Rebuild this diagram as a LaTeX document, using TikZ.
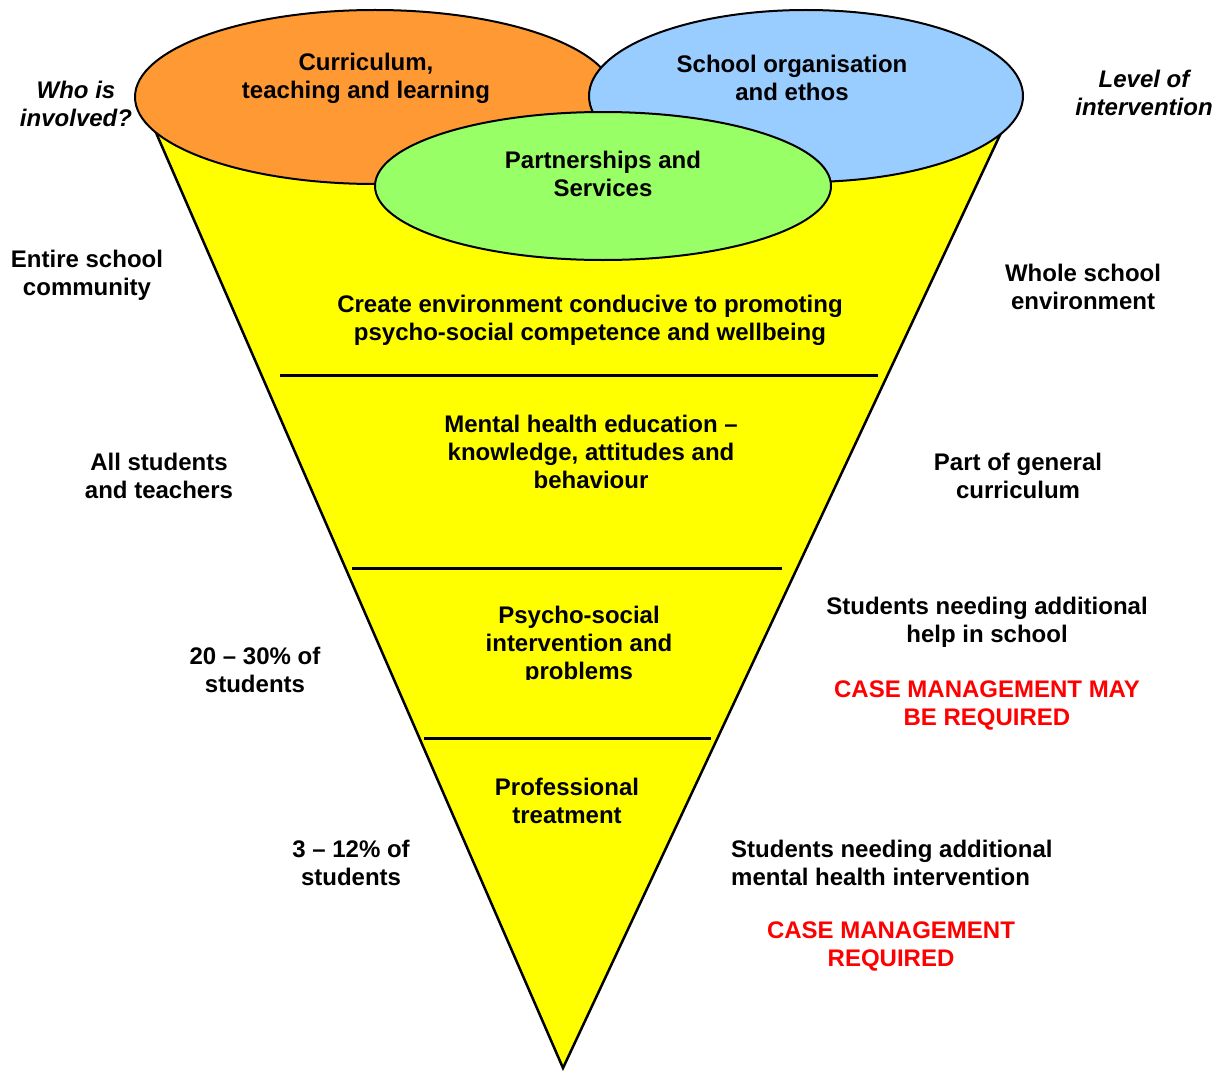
\documentclass[tikz,border=0pt]{standalone}
\usepackage{fontspec}
\setmainfont{Liberation Sans}
\definecolor{corange}{RGB}{255,153,51}
\definecolor{cblue}{RGB}{153,204,255}
\definecolor{cgreen}{RGB}{153,255,102}
\definecolor{cyellow}{RGB}{255,255,0}
\definecolor{cred}{RGB}{255,0,0}
\begin{document}
\begin{tikzpicture}[x=1pt,y=-1pt,
  lbl/.style={font=\fontsize{24}{28}\selectfont\bfseries, align=center, inner sep=0pt},
  ital/.style={lbl, font=\fontsize{24}{28}\selectfont\bfseries\itshape},
  redlbl/.style={lbl, text=cred},
  blob/.style={draw=black, line width=2pt},
  divider/.style={draw=black, line width=3pt}]
\useasboundingbox (0,0) rectangle (1214,1070);
% cone
\draw[fill=cyellow, line width=2.5pt, line join=miter] (150.5,120) -- (563,1068) -- (1007,120);
% ellipses
\draw[blob, fill=corange] (375,97) ellipse [x radius=240pt, y radius=87pt];
\draw[blob, fill=cblue] (806,96) ellipse [x radius=217pt, y radius=86pt];
\draw[blob, fill=cgreen] (603,186) ellipse [x radius=228pt, y radius=74pt];
% dividers
\draw[divider] (280,375) -- (878,375);
\draw[divider] (352,568) -- (782,568);
\draw[divider] (424,738) -- (711,738);
% ellipse labels
\node[lbl] (curr) at (366,78) {Curriculum,\\teaching and learning};
\node[lbl] (org) at (792,78) {School organisation\\and ethos};
\node[lbl] (part) at (603,174) {Partnerships and\\Services};
% side headers
\node[ital] (who) at (76,104) {Who is\\involved?};
\node[ital] (level) at (1144,93) {Level of\\intervention};
% layer 1
\node[lbl] (entire) at (87,275) {Entire school\\community};
\node[lbl] (create) at (590,320) {Create environment conducive to promoting\\psycho-social competence and wellbeing};
\node[lbl] (whole) at (1083,287) {Whole school\\environment};
% layer 2
\node[lbl] (mhe) at (591,452) {Mental health education --\\knowledge, attitudes and\\behaviour};
\node[lbl] (allst) at (159,476) {All students\\and teachers};
\node[lbl] (gencur) at (1018,476) {Part of general\\curriculum};
% layer 3
\begin{scope}
\clip (420,590) rectangle (760,679.5);
\node[lbl] (psycho) at (579,645) {Psycho-social\\intervention and\\problems};
\end{scope}
\node[lbl] (twenty) at (255,670) {20 -- 30\% of\\students};
\node[lbl] (helpsch) at (987,622) {Students needing additional\\help in school};
\node[redlbl] (casemay) at (987,705) {CASE MANAGEMENT MAY\\BE REQUIRED};
% layer 4
\node[lbl] (prof) at (567,801) {Professional\\treatment};
\node[lbl] (three) at (351,863) {3 -- 12\% of\\students};
\node[lbl, align=left, anchor=west] (mhint) at (731,863) {Students needing additional\\mental health intervention};
\node[redlbl] (casereq) at (891,946) {CASE MANAGEMENT\\REQUIRED};
\end{tikzpicture}
\end{document}
